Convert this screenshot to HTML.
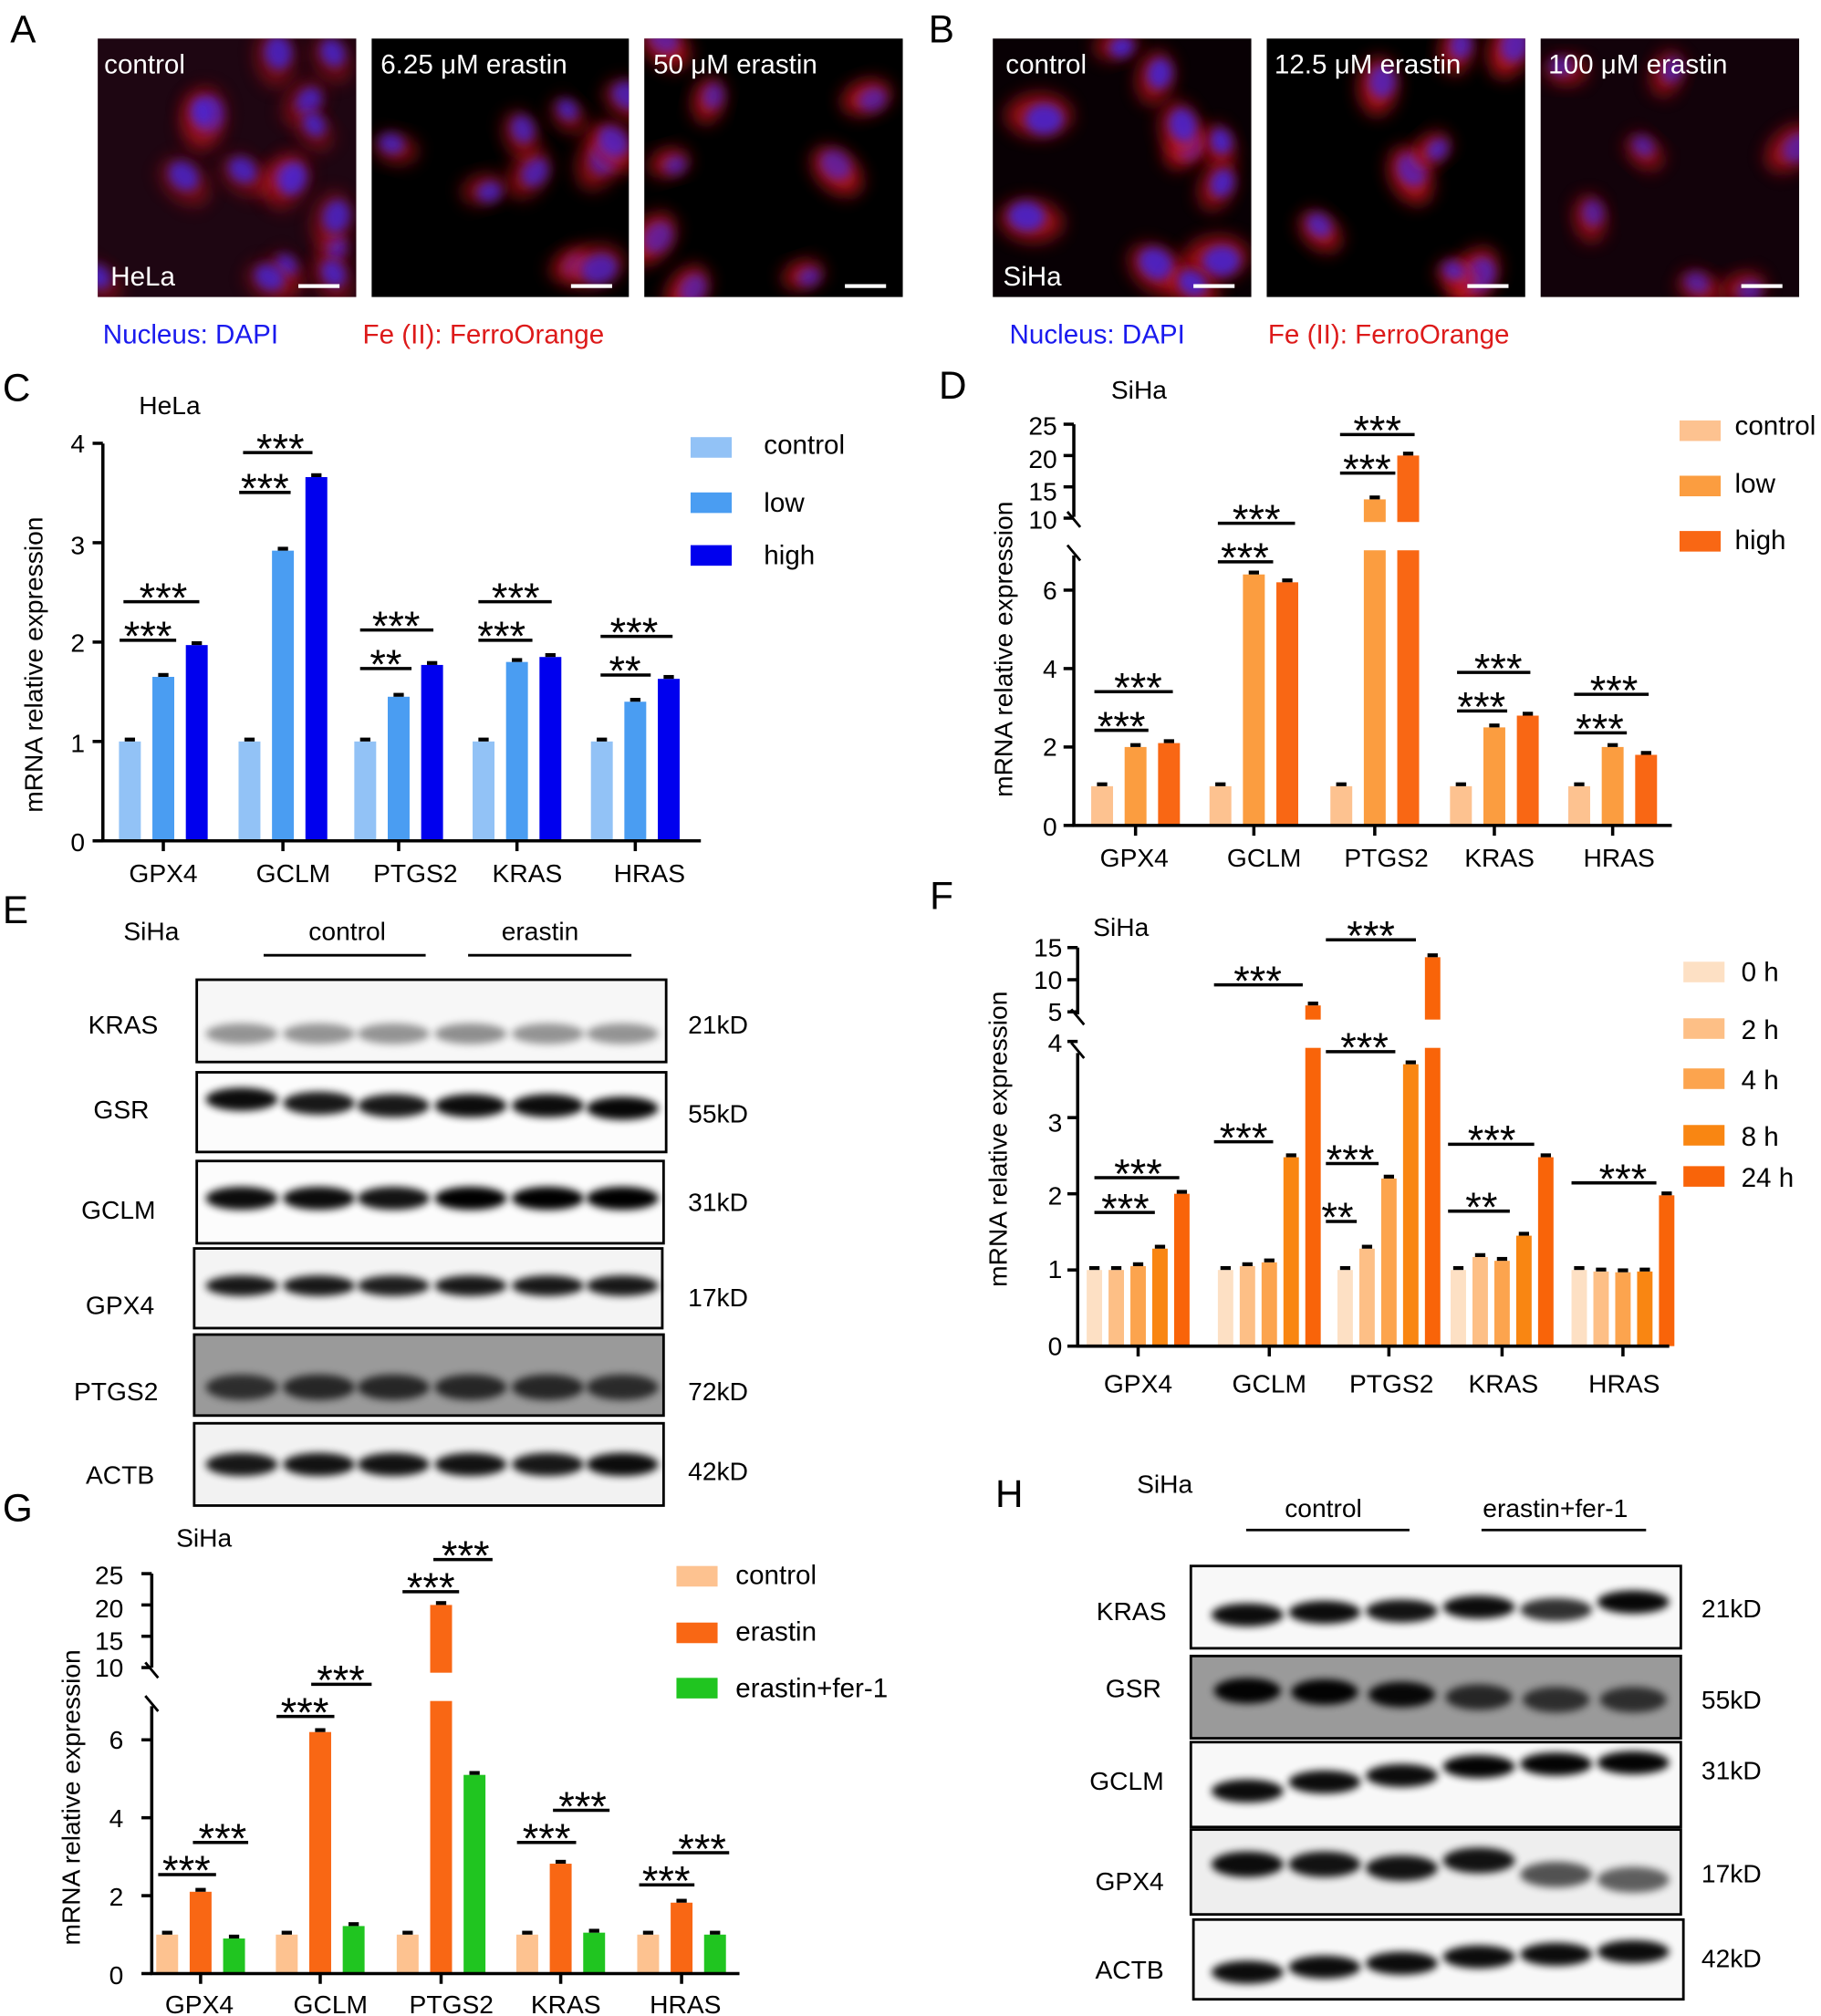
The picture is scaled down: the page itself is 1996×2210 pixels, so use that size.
<!DOCTYPE html>
<html><head><meta charset="utf-8"><style>
html,body{margin:0;padding:0;background:#fff}
svg{display:block}
text{font-family:"Liberation Sans",Arial,sans-serif}
</style></head><body>
<svg id="s" width="1996" height="2210" viewBox="0 0 1416 1568" preserveAspectRatio="none" xmlns="http://www.w3.org/2000/svg">
<defs>
<filter id="b6" x="-50%" y="-50%" width="200%" height="200%"><feGaussianBlur stdDeviation="7"/></filter>
<filter id="b3" x="-50%" y="-50%" width="200%" height="200%"><feGaussianBlur stdDeviation="4"/></filter>
<filter id="b2" x="-50%" y="-50%" width="200%" height="200%"><feGaussianBlur stdDeviation="3"/></filter>
</defs>
<g id="micro"></g>
<g id="shapes"></g>
<g font-size="30" fill="#000">
<text x="8" y="33">A</text><text x="722" y="33">B</text>
<text x="2" y="312">C</text><text x="730" y="310">D</text>
<text x="2" y="718">E</text><text x="723" y="707">F</text>
<text x="2" y="1183">G</text><text x="774" y="1172">H</text>
</g>
<g font-size="21" fill="#fff">
<text x="81" y="57">control</text><text x="296" y="57">6.25 μM erastin</text><text x="508" y="57">50 μM erastin</text>
<text x="86" y="222">HeLa</text>
<text x="782" y="57">control</text><text x="991" y="57">12.5 μM erastin</text><text x="1204" y="57">100 μM erastin</text>
<text x="780" y="222">SiHa</text>
</g>
<g font-size="21">
<text x="80" y="267" fill="#1a1aee">Nucleus: DAPI</text><text x="282" y="267" fill="#dd1a1a">Fe (II): FerroOrange</text>
<text x="785" y="267" fill="#1a1aee">Nucleus: DAPI</text><text x="986" y="267" fill="#dd1a1a">Fe (II): FerroOrange</text>
</g>
<g font-size="20">
<text x="108" y="322">HeLa</text>
<text x="864" y="310">SiHa</text>
<text x="850" y="728">SiHa</text>
<text x="137" y="1203">SiHa</text>
<text x="96" y="731">SiHa</text>
<text x="884" y="1161">SiHa</text>
</g>
<g font-size="20" text-anchor="end">
<text x="66" y="352">4</text><text x="66" y="431">3</text><text x="66" y="507">2</text><text x="66" y="585">1</text><text x="66" y="662">0</text>
<text x="822" y="338">25</text><text x="822" y="364">20</text><text x="822" y="389">15</text><text x="822" y="411">10</text><text x="822" y="466">6</text><text x="822" y="527">4</text><text x="822" y="588">2</text><text x="822" y="650">0</text>
<text x="826" y="744">15</text><text x="826" y="769">10</text><text x="826" y="794">5</text><text x="826" y="818">4</text><text x="826" y="880">3</text><text x="826" y="937">2</text><text x="826" y="994">1</text><text x="826" y="1054">0</text>
<text x="96" y="1232">25</text><text x="96" y="1258">20</text><text x="96" y="1283">15</text><text x="96" y="1304">10</text><text x="96" y="1360">6</text><text x="96" y="1421">4</text><text x="96" y="1482">2</text><text x="96" y="1543">0</text>
</g>
<g font-size="20" text-anchor="middle">
<text transform="translate(33,517) rotate(-90)">mRNA relative expression</text>
<text transform="translate(787,505) rotate(-90)">mRNA relative expression</text>
<text transform="translate(783,886) rotate(-90)">mRNA relative expression</text>
<text transform="translate(62,1398) rotate(-90)">mRNA relative expression</text>
<text x="127" y="686">GPX4</text><text x="228" y="686">GCLM</text><text x="323" y="686">PTGS2</text><text x="410" y="686">KRAS</text><text x="505" y="686">HRAS</text>
<text x="882" y="674">GPX4</text><text x="983" y="674">GCLM</text><text x="1078" y="674">PTGS2</text><text x="1166" y="674">KRAS</text><text x="1259" y="674">HRAS</text>
<text x="885" y="1083">GPX4</text><text x="987" y="1083">GCLM</text><text x="1082" y="1083">PTGS2</text><text x="1169" y="1083">KRAS</text><text x="1263" y="1083">HRAS</text>
<text x="155" y="1566">GPX4</text><text x="257" y="1566">GCLM</text><text x="351" y="1566">PTGS2</text><text x="440" y="1566">KRAS</text><text x="533" y="1566">HRAS</text>
</g>
<g font-size="21">
<text x="594" y="353">control</text><text x="594" y="398">low</text><text x="594" y="439">high</text>
<text x="1349" y="338">control</text><text x="1349" y="383">low</text><text x="1349" y="427">high</text>
<text x="1354" y="763">0 h</text><text x="1354" y="808">2 h</text><text x="1354" y="847">4 h</text><text x="1354" y="891">8 h</text><text x="1354" y="923">24 h</text>
<text x="572" y="1232">control</text><text x="572" y="1276">erastin</text><text x="572" y="1320">erastin+fer-1</text>
</g>
<g font-size="20">
<text x="240" y="731">control</text><text x="390" y="731">erastin</text>
<text x="999" y="1180">control</text><text x="1153" y="1180">erastin+fer-1</text>
</g>
<g font-size="20" text-anchor="end">
<text x="123" y="804">KRAS</text><text x="116" y="870">GSR</text><text x="121" y="948">GCLM</text><text x="120" y="1022">GPX4</text><text x="123" y="1089">PTGS2</text><text x="120" y="1154">ACTB</text>
<text x="907" y="1260">KRAS</text><text x="903" y="1320">GSR</text><text x="905" y="1392">GCLM</text><text x="905" y="1470">GPX4</text><text x="905" y="1539">ACTB</text>
</g>
<g font-size="20">
<text x="535" y="804">21kD</text><text x="535" y="873">55kD</text><text x="535" y="942">31kD</text><text x="535" y="1016">17kD</text><text x="535" y="1089">72kD</text><text x="535" y="1151">42kD</text>
<text x="1323" y="1258">21kD</text><text x="1323" y="1329">55kD</text><text x="1323" y="1384">31kD</text><text x="1323" y="1464">17kD</text><text x="1323" y="1530">42kD</text>
</g>
<g id="stars" font-size="32" text-anchor="middle" transform="translate(0,2)">
<text x="127" y="474">***</text><text x="115" y="504">***</text>
<text x="218" y="358">***</text><text x="206" y="389">***</text>
<text x="308" y="496">***</text><text x="300" y="526">**</text>
<text x="401" y="474">***</text><text x="390" y="504">***</text>
<text x="493" y="501">***</text><text x="486" y="531">**</text>
<text x="885" y="544">***</text><text x="872" y="574">***</text>
<text x="977" y="413">***</text><text x="968" y="443">***</text>
<text x="1071" y="344">***</text><text x="1063" y="374">***</text>
<text x="1165" y="529">***</text><text x="1152" y="559">***</text>
<text x="1255" y="546">***</text><text x="1244" y="576">***</text>
<text x="885" y="922">***</text><text x="875" y="949">***</text>
<text x="978" y="772">***</text><text x="967" y="894">***</text>
<text x="1066" y="737">***</text><text x="1061" y="824">***</text><text x="1050" y="911">***</text><text x="1040" y="956">**</text>
<text x="1160" y="896">***</text><text x="1152" y="948">**</text>
<text x="1262" y="926">***</text>
<text x="145" y="1464">***</text><text x="173" y="1439">***</text>
<text x="237" y="1341">***</text><text x="265" y="1316">***</text>
<text x="335" y="1244">***</text><text x="362" y="1219">***</text>
<text x="425" y="1439">***</text><text x="453" y="1414">***</text>
<text x="518" y="1472">***</text><text x="546" y="1447">***</text>
</g>
</svg>
<script>
var NS="http://www.w3.org/2000/svg",sh=document.getElementById('shapes'),mi=document.getElementById('micro');
function el(t,a,p){var e=document.createElementNS(NS,t);for(var k in a)e.setAttribute(k,a[k]);(p||sh).appendChild(e);return e;}
function rect(x,y,w,h,f,p){return el('rect',{x:x,y:y,width:w,height:h,fill:f},p);}
function line(x1,y1,x2,y2,w){el('line',{x1:x1,y1:y1,x2:x2,y2:y2,stroke:'#000','stroke-width':w||2.5});}
var seed=7;function rnd(){seed=(seed*16807)%2147483647;return seed/2147483647;}
function micro(x,y,w,h,n,redAmt,bg,blue){
  var g=el('g',{},mi);rect(x,y,w,h,bg,g);
  var cp=el('clipPath',{id:'c'+x},g);rect(x,y,w,h,'#000',cp);
  var gg=el('g',{'clip-path':'url(#c'+x+')'},g);
  for(var i=0;i<n;i++){var cx=x+rnd()*w,cy=y+rnd()*h,r=9+rnd()*6,a=rnd()*180;
    el('ellipse',{cx:cx+4,cy:cy+3,rx:r*1.7,ry:r*1.1,fill:'rgb(200,20,30)',opacity:redAmt,filter:'url(#b6)',transform:'rotate('+a+' '+cx+' '+cy+')'},gg);
    el('ellipse',{cx:cx,cy:cy,rx:r,ry:r*0.8,fill:'rgb(60,40,230)',opacity:blue,filter:'url(#b3)',transform:'rotate('+a+' '+cx+' '+cy+')'},gg);}
  rect(x+w-45,y+h-10,32,3,'#fff',g);
}
micro(76,30,201,201,16,0.55,'#1e0612',0.75);micro(289,30,200,201,10,0.7,'#000',0.7);micro(501,30,201,201,8,0.9,'#000',0.6);
micro(772,30,201,201,11,0.8,'#080004',0.8);micro(985,30,201,201,8,0.9,'#000',0.7);micro(1198,30,201,201,7,0.8,'#12020a',0.6);
function chart(o){
  var k=o.k,base=o.base;
  function Y(v){ if(!o.brk||v<=o.brk.lv) return base-v*k; if(v>=o.brk.uv) return o.brk.uy-(v-o.brk.uv)*o.brk.k2; var t=(v-o.brk.lv)/(o.brk.uv-o.brk.lv);return (base-o.brk.lv*k)+t*(o.brk.uy-(base-o.brk.lv*k));}
  o.groups.forEach(function(g,gi){
    var n=g.length,tot=n*o.bw+(n-1)*o.gap,x0=o.cx[gi]-tot/2;
    g.forEach(function(v,i){var x=x0+i*(o.bw+o.gap),y=Y(v);rect(x,y,o.bw,base-y,o.col[i]);rect(x+o.bw/2-4,y-3,8,3,'#000');});
    line(o.cx[gi],base,o.cx[gi],base+8,2.5);
  });
  if(o.brk){rect(o.ax+2,o.brk.g1,o.x2-o.ax,o.brk.g2-o.brk.g1,'#fff');
    line(o.ax,o.top,o.ax,o.brk.g1-4,2.5);line(o.ax,o.brk.g2+4,o.ax,base,2.5);
    line(o.ax-5,o.brk.g1-8,o.ax+5,o.brk.g1+4,2);line(o.ax-5,o.brk.g2-4,o.ax+5,o.brk.g2+8,2);
  } else line(o.ax,o.top,o.ax,base,2.5);
  line(o.ax-1,base,o.x2,base,2.5);
  o.ticks.forEach(function(v){var y=Y(v);line(o.ax-8,y,o.ax,y,2.5);});
  (o.sig||[]).forEach(function(s){line(s[0],s[2],s[1],s[2],2.5);});
}
var blues=['#92c2f6','#4a9df2','#0000ee'],or3=['#fdc290','#fb9d40','#f96714'],or5=['#fde0c4','#fdbf86','#fca44e','#f98612','#f96409'],g3=['#fdc290','#f96714','#20c520'];
chart({ax:80,base:654,k:77.3,top:345,x2:545,bw:17,gap:9,cx:[127,220,310,402,494],col:blues,
 groups:[[1,1.65,1.97],[1,2.92,3.66],[1,1.45,1.77],[1,1.8,1.85],[1,1.4,1.63]],ticks:[0,1,2,3,4],
 sig:[[96,155,468],[93,137,498],[189,243,352],[186,226,383],[280,337,490],[280,320,520],[372,429,468],[372,414,498],[467,523,495],[467,506,525]]});
chart({ax:835,base:642,k:30.5,top:330,x2:1300,bw:17,gap:9,cx:[883,975,1069,1162,1254],col:or3,
 groups:[[1,2,2.1],[1,6.4,6.2],[1,13,20],[1,2.5,2.8],[1,2,1.8]],ticks:[0,2,4,6,10,15,20,25],
 brk:{lv:7,uv:10,uy:403,k2:4.87,g1:406,g2:428},
 sig:[[851,912,538],[851,893,568],[947,1007,407],[947,990,437],[1042,1100,338],[1042,1085,368],[1133,1190,523],[1133,1172,553],[1224,1282,540],[1224,1265,570]]});
chart({ax:838,base:1047,k:59.25,top:737,x2:1298,bw:12,gap:5,cx:[885,987,1080,1168,1262],col:or5,
 groups:[[1,1,1.05,1.28,2],[1,1.05,1.1,2.48,6],[1,1.28,2.2,3.7,13.5],[1,1.17,1.12,1.45,2.48],[1,0.98,0.97,0.98,1.98]],ticks:[0,1,2,3,4,5,10,15],
 brk:{lv:4.1,uv:5,uy:787,k2:5,g1:793,g2:815},
 sig:[[851,917,916],[851,898,943],[944,1013,766],[944,990,888],[1031,1101,731],[1031,1085,818],[1031,1072,905],[1031,1055,950],[1126,1193,890],[1126,1174,942],[1222,1288,920]]});
chart({ax:118,base:1535,k:30.3,top:1224,x2:575,bw:17,gap:9,cx:[156,249,343,436,530],col:g3,
 groups:[[1,2.1,0.9],[1,6.2,1.22],[1,20,5.1],[1,2.82,1.05],[1,1.82,1]],ticks:[0,2,4,6,10,15,20,25],
 brk:{lv:7,uv:10,uy:1297,k2:4.87,g1:1301,g2:1323},
 sig:[[123,168,1458],[150,193,1433],[215,260,1335],[242,289,1310],[313,357,1238],[337,383,1213],[402,448,1433],[430,474,1408],[497,540,1466],[523,567,1441]]});
[[537,340,blues[0]],[537,383,blues[1]],[537,424,blues[2]],[1306,327,or3[0]],[1306,370,or3[1]],[1306,413,or3[2]],
 [1309,748,or5[0]],[1309,792,or5[1]],[1309,831,or5[2]],[1309,875,or5[3]],[1309,907,or5[4]],
 [526,1218,g3[0]],[526,1262,g3[1]],[526,1305,g3[2]]].forEach(function(l){rect(l[0],l[1],32,16,l[2]);});
line(205,743,331,743,2);line(364,743,491,743,2);line(969,1190,1096,1190,2);line(1152,1190,1280,1190,2);
function blot(x,y,w,h,by,ints,bg,lanes,bh,bw){
  rect(x,y,w,h,bg);
  lanes.forEach(function(lx,i){var a=ints[i];
    el('ellipse',{cx:lx,cy:by[i]!==undefined?by[i]:by,rx:bw||28,ry:bh||8,fill:'#000',opacity:a,filter:'url(#b2)'});});
  el('rect',{x:x,y:y,width:w,height:h,fill:'none',stroke:'#000','stroke-width':2});
}
var LE=[188,248,306,366,426,484];
function arr(v){return [v,v,v,v,v,v];}
blot(153,762,365,64,arr(804),[0.4,0.4,0.4,0.42,0.4,0.4],'#f7f7f7',LE,8);
blot(153,834,365,62,[855,858,860,860,860,862],[0.95,0.9,0.9,0.95,0.95,0.97],'#fcfcfc',LE,9);
blot(153,903,363,64,arr(932),[0.95,0.95,0.92,1,1,1],'#fcfcfc',LE,9);
blot(151,971,364,62,arr(1000),[0.9,0.9,0.88,0.9,0.9,0.9],'#f4f4f4',LE,8);
blot(151,1038,365,63,arr(1079),[0.7,0.75,0.75,0.75,0.75,0.72],'#9a9a9a',LE,10);
blot(151,1107,365,64,arr(1139),[0.9,0.92,0.92,0.92,0.9,0.95],'#f2f2f2',LE,9);
var LH=[970,1030,1090,1150,1210,1270];
blot(926,1218,381,64,[1256,1254,1253,1250,1252,1246],[0.95,0.95,0.92,0.95,0.8,0.97],'#f8f8f8',LH,9);
blot(926,1288,381,64,[1315,1316,1318,1320,1322,1322],[0.98,0.98,0.95,0.75,0.7,0.7],'#9a9a9a',LH,10,26);
blot(926,1355,381,66,[1393,1386,1381,1374,1372,1371],[0.95,0.95,0.95,0.98,0.98,0.98],'#f8f8f8',LH,9);
blot(926,1423,381,66,[1450,1450,1453,1447,1458,1462],[0.95,0.92,0.92,0.92,0.65,0.6],'#eeeeee',LH,10);
blot(928,1493,381,62,[1534,1530,1527,1522,1520,1518],[0.95,0.95,0.95,0.95,0.95,0.95],'#f8f8f8',LH,9);
</script>
</body></html>
